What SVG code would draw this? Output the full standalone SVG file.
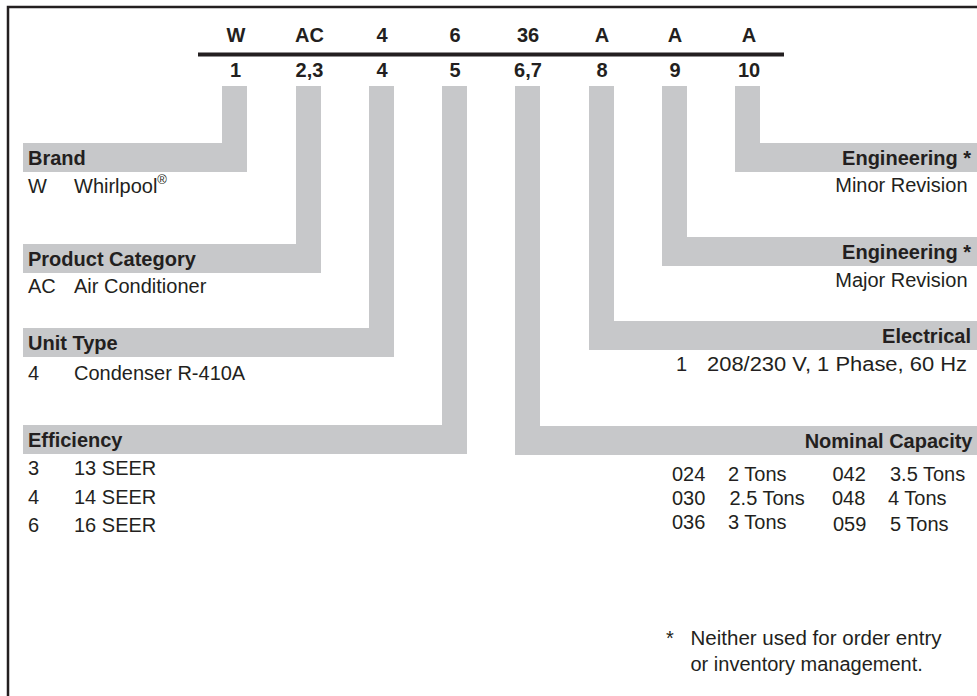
<svg xmlns="http://www.w3.org/2000/svg" width="977" height="696" viewBox="0 0 977 696">
<style>
  text { font-family: "Liberation Sans", Arial, sans-serif; font-size: 20px; fill: #231f20; }
  .b { font-weight: bold; }
  .c { text-anchor: middle; }
  .e { text-anchor: end; }
  .band { fill: #c7c8ca; }
  .bar { fill: #c7c8ca; }
</style>
<rect x="8" y="7" width="1000" height="720" fill="#ffffff" stroke="#231f20" stroke-width="2.5"/>

<g id="header">
  <line x1="198" y1="54.5" x2="784" y2="54.5" stroke="#231f20" stroke-width="4"/>
  <text class="b c" x="236" y="42">W</text>
  <text class="b c" x="309.5" y="42">AC</text>
  <text class="b c" x="382" y="42">4</text>
  <text class="b c" x="455" y="42">6</text>
  <text class="b c" x="528" y="42">36</text>
  <text class="b c" x="602" y="42">A</text>
  <text class="b c" x="675" y="42">A</text>
  <text class="b c" x="749" y="42">A</text>
  <text class="b c" x="235.5" y="77">1</text>
  <text class="b c" x="309.5" y="77">2,3</text>
  <text class="b c" x="382" y="77">4</text>
  <text class="b c" x="455" y="77">5</text>
  <text class="b c" x="528" y="77">6,7</text>
  <text class="b c" x="602" y="77">8</text>
  <text class="b c" x="675" y="77">9</text>
  <text class="b c" x="749" y="77">10</text>
</g>

<g id="connectors">
  <rect class="bar" x="222" y="86" width="25" height="60"/>
  <rect class="bar" x="296" y="86" width="25" height="161"/>
  <rect class="bar" x="369" y="86" width="25" height="245"/>
  <rect class="bar" x="442" y="86" width="25" height="342"/>
  <rect class="bar" x="515" y="86" width="25" height="343"/>
  <rect class="bar" x="589" y="86" width="25" height="238"/>
  <rect class="bar" x="662" y="86" width="25" height="154"/>
  <rect class="bar" x="735" y="86" width="25" height="60"/>
</g>

<g id="brand">
  <rect class="band" x="23" y="143" width="224" height="29"/>
  <text class="b" x="28" y="164.5">Brand</text>
  <text x="28" y="192.5">W</text>
  <text x="74" y="192.5">Whirlpool<tspan font-size="13" dy="-9">®</tspan></text>
</g>

<g id="product-category">
  <rect class="band" x="23" y="244" width="298" height="29"/>
  <text class="b" x="28" y="265.5">Product Category</text>
  <text x="28" y="293">AC</text>
  <text x="74" y="293">Air Conditioner</text>
</g>

<g id="unit-type">
  <rect class="band" x="23" y="328" width="371" height="29"/>
  <text class="b" x="28" y="349.5">Unit Type</text>
  <text x="28" y="380">4</text>
  <text x="74" y="380">Condenser R-410A</text>
</g>

<g id="efficiency">
  <rect class="band" x="23" y="425" width="444" height="29"/>
  <text class="b" x="28" y="446.5">Efficiency</text>
  <text x="28" y="475">3</text>
  <text x="74" y="475">13 SEER</text>
  <text x="28" y="503.5">4</text>
  <text x="74" y="503.5">14 SEER</text>
  <text x="28" y="532">6</text>
  <text x="74" y="532">16 SEER</text>
</g>

<g id="engineering-minor">
  <rect class="band" x="735" y="143" width="242" height="29"/>
  <text class="b e" x="971" y="164.5">Engineering *</text>
  <text class="e" x="967.5" y="192">Minor Revision</text>
</g>

<g id="engineering-major">
  <rect class="band" x="662" y="237" width="315" height="29"/>
  <text class="b e" x="971" y="258.5">Engineering *</text>
  <text class="e" x="967.5" y="287">Major Revision</text>
</g>

<g id="electrical">
  <rect class="band" x="589" y="321" width="388" height="29"/>
  <text class="b e" x="971" y="342.5">Electrical</text>
  <text x="676" y="371">1</text>
  <text x="707" y="371" textLength="260" lengthAdjust="spacingAndGlyphs">208/230 V, 1 Phase, 60 Hz</text>
</g>

<g id="nominal-capacity">
  <rect class="band" x="515" y="426" width="462" height="29"/>
  <text class="b e" x="972.5" y="447.5">Nominal Capacity</text>
  <text x="672" y="480.5">024</text>
  <text x="728" y="480.5">2 Tons</text>
  <text x="832.5" y="480.5">042</text>
  <text x="890" y="480.5">3.5 Tons</text>
  <text x="672" y="505">030</text>
  <text x="729.5" y="505">2.5 Tons</text>
  <text x="832" y="505">048</text>
  <text x="888" y="505">4 Tons</text>
  <text x="672" y="528.5">036</text>
  <text x="728" y="528.5">3 Tons</text>
  <text x="833" y="530.5">059</text>
  <text x="890" y="530.5">5 Tons</text>
</g>

<g id="footnote">
  <text x="666" y="645">*</text>
  <text x="690.5" y="645" textLength="251" lengthAdjust="spacingAndGlyphs">Neither used for order entry</text>
  <text x="690.5" y="670.5">or inventory management.</text>
</g>
</svg>
